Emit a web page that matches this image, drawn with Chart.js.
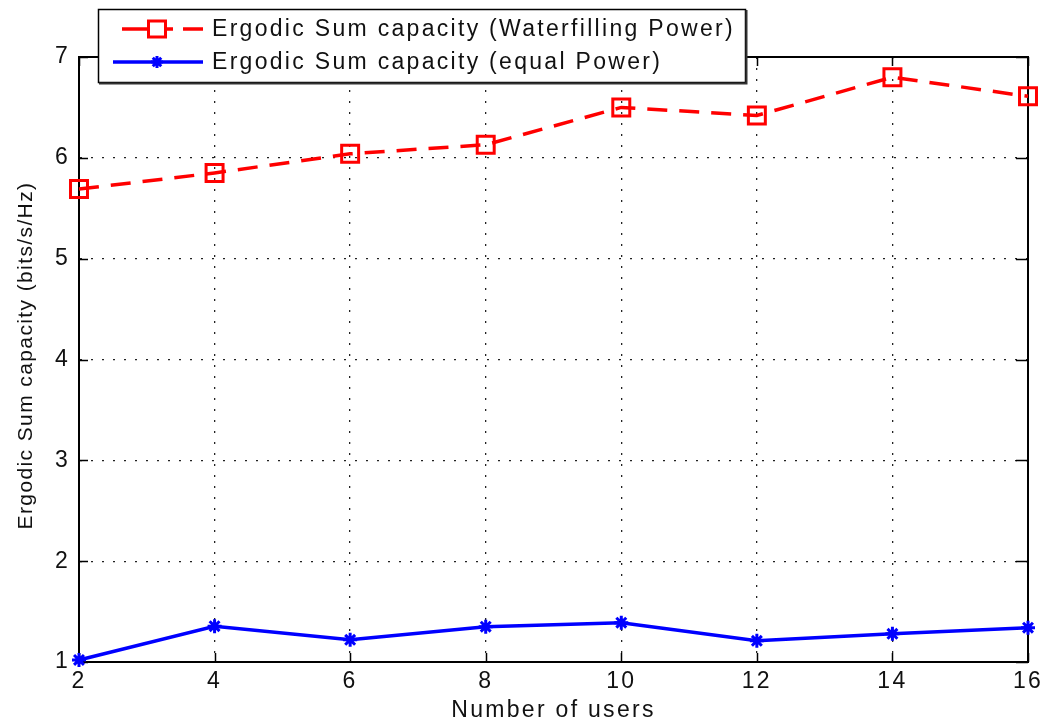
<!DOCTYPE html>
<html>
<head>
<meta charset="utf-8">
<script src="https://cdn.jsdelivr.net/npm/chart.js@4/dist/chart.umd.min.js"></script>
<style>
  html, body { margin: 0; padding: 0; background: #fff; }
  #wrap { width: 1047px; height: 724px; position: relative; }
</style>
</head>
<body>
<div id="wrap"><canvas id="c"></canvas></div>
<script>
// Number of users on the x axis
const users = [2, 4, 6, 8, 10, 12, 14, 16];
// Ergodic sum capacity in bits/s/Hz
const waterfilling = [5.69, 5.85, 6.04, 6.13, 6.50, 6.42, 6.80, 6.61];
const equalPower   = [1.02, 1.355, 1.22, 1.35, 1.39, 1.21, 1.28, 1.34];

const xTicks = [2, 4, 6, 8, 10, 12, 14, 16];
const yTicks = [1, 2, 3, 4, 5, 6, 7];

const seriesNames = [
  'Ergodic Sum capacity (Waterfilling Power)',
  'Ergodic Sum capacity (equal Power)'
];
const xTitle = 'Number of users';
const yTitle = 'Ergodic Sum capacity (bits/s/Hz)';

const FONT = '"Liberation Sans", Arial, sans-serif';
const TEXT_SPACING = '2.3px';
const RED = '#ff0000';
const BLUE = '#0000ff';

function drawStar(ctx, cx, cy, r) {
  ctx.beginPath();
  ctx.moveTo(cx - r, cy); ctx.lineTo(cx + r, cy);
  ctx.moveTo(cx, cy - r); ctx.lineTo(cx, cy + r);
  const d = r * Math.SQRT1_2;
  ctx.moveTo(cx - d, cy - d); ctx.lineTo(cx + d, cy + d);
  ctx.moveTo(cx - d, cy + d); ctx.lineTo(cx + d, cy - d);
  ctx.stroke();
}

// Box frame with inward ticks on all four sides, legend box and rotated y label
const matlabAxes = {
  id: 'matlabAxes',
  beforeDraw(chart) {
    chart.ctx.letterSpacing = TEXT_SPACING;
  },
  beforeDatasetsDraw(chart) {
    const { ctx, chartArea: a, scales: { x, y } } = chart;
    ctx.save();
    ctx.setLineDash([]);
    ctx.strokeStyle = '#000';
    ctx.lineWidth = 1.5;
    ctx.beginPath();
    xTicks.forEach(v => {
      const px = Math.round(x.getPixelForValue(v)) + 0.5;
      ctx.moveTo(px, a.bottom); ctx.lineTo(px, a.bottom - 9);
      ctx.moveTo(px, a.top); ctx.lineTo(px, a.top + 9);
    });
    yTicks.forEach(v => {
      const py = Math.round(y.getPixelForValue(v)) + 0.5;
      ctx.moveTo(a.left, py); ctx.lineTo(a.left + 9, py);
      ctx.moveTo(a.right, py); ctx.lineTo(a.right - 12, py);
    });
    ctx.stroke();
    ctx.lineWidth = 2;
    ctx.strokeRect(a.left, a.top, a.right - a.left, a.bottom - a.top);
    ctx.restore();
  },
  afterDraw(chart) {
    const { ctx, chartArea: a } = chart;

    // y axis label, rotated and fitted to its span
    ctx.save();
    ctx.font = '21px ' + FONT;
    ctx.letterSpacing = '0px';
    const w0 = ctx.measureText(yTitle).width;
    ctx.letterSpacing = ((348 - w0) / yTitle.length).toFixed(2) + 'px';
    ctx.fillStyle = '#111';
    ctx.textAlign = 'center';
    ctx.textBaseline = 'middle';
    ctx.translate(26, (a.top + a.bottom) / 2 - 4);
    ctx.rotate(-Math.PI / 2);
    ctx.fillText(yTitle, 0, 0);
    ctx.restore();

    // legend
    const L = 98, T = 9, W = 647, H = 73;
    ctx.save();
    ctx.fillStyle = '#fff';
    ctx.fillRect(L, T, W, H);
    ctx.strokeStyle = '#000';
    ctx.lineWidth = 1.5;
    ctx.strokeRect(L + 0.5, T + 0.5, W, H);
    ctx.lineWidth = 2;
    ctx.strokeStyle = '#333';
    ctx.beginPath();
    ctx.moveTo(L + 1, T + H + 1.5); ctx.lineTo(L + W + 1.5, T + H + 1.5); ctx.lineTo(L + W + 1.5, T + 1);
    ctx.stroke();

    const row1 = 29, row2 = 62;
    // red dashed sample with open square
    ctx.strokeStyle = RED;
    ctx.lineWidth = 3.5;
    ctx.beginPath();
    ctx.moveTo(122, row1); ctx.lineTo(147, row1);
    ctx.moveTo(166, row1); ctx.lineTo(173, row1);
    ctx.moveTo(183, row1); ctx.lineTo(203, row1);
    ctx.stroke();
    ctx.lineWidth = 3;
    ctx.strokeRect(148.5, row1 - 8, 17, 16);
    // blue solid sample with star
    ctx.strokeStyle = BLUE;
    ctx.lineWidth = 3.5;
    ctx.beginPath();
    ctx.moveTo(113, row2); ctx.lineTo(203, row2);
    ctx.stroke();
    ctx.lineWidth = 3;
    drawStar(ctx, 157, row2, 6);

    ctx.fillStyle = '#111';
    ctx.font = '23px ' + FONT;
    ctx.textAlign = 'left';
    ctx.textBaseline = 'middle';
    ctx.fillText(seriesNames[0], 212, row1 + 1);
    ctx.fillText(seriesNames[1], 212, row2 + 1);
    ctx.restore();
  }
};

const tickFont = { family: FONT, size: 23 };

new Chart(document.getElementById('c'), {
  type: 'line',
  data: {
    datasets: [
      {
        label: seriesNames[0],
        data: users.map((u, i) => ({ x: u, y: waterfilling[i] })),
        borderColor: RED,
        borderWidth: 3.5,
        borderDash: [20, 12],
        pointStyle: 'rect',
        pointRadius: 12,
        pointBorderWidth: 3,
        pointBorderColor: RED,
        pointBackgroundColor: 'rgba(0,0,0,0)',
        tension: 0,
        clip: false
      },
      {
        label: seriesNames[1],
        data: users.map((u, i) => ({ x: u, y: equalPower[i] })),
        borderColor: BLUE,
        borderWidth: 3.5,
        pointStyle: 'star',
        pointRadius: 7,
        pointBorderWidth: 3,
        pointBorderColor: BLUE,
        pointBackgroundColor: BLUE,
        tension: 0,
        clip: false
      }
    ]
  },
  options: {
    responsive: true,
    maintainAspectRatio: false,
    animation: false,
    events: [],
    layout: { padding: { top: 57, right: 19, left: 0, bottom: 0 } },
    plugins: {
      legend: { display: false },
      tooltip: { enabled: false },
      title: { display: false }
    },
    scales: {
      x: {
        type: 'linear',
        min: 2,
        max: 16,
        afterBuildTicks: s => { s.ticks = xTicks.map(v => ({ value: v })); },
        ticks: { font: tickFont, color: '#111', padding: 6, maxRotation: 0, autoSkip: false },
        grid: { color: '#222', lineWidth: 1.3, drawTicks: false },
        border: { display: true, color: '#000', width: 2, dash: [2, 9] },
        title: {
          display: true,
          text: xTitle,
          font: { family: FONT, size: 23 },
          color: '#111',
          padding: { top: 0, bottom: 0 }
        },
        afterFit: s => { s.height = 62; }
      },
      y: {
        type: 'linear',
        min: 1,
        max: 7,
        afterBuildTicks: s => { s.ticks = yTicks.map(v => ({ value: v })); },
        ticks: { font: tickFont, color: '#111', padding: 9, autoSkip: false },
        grid: { color: '#222', lineWidth: 1.3, drawTicks: false },
        border: { display: true, color: '#000', width: 2, dash: [2, 9] },
        afterFit: s => { s.width = 79; }
      }
    }
  },
  plugins: [matlabAxes]
});
</script>
</body>
</html>
